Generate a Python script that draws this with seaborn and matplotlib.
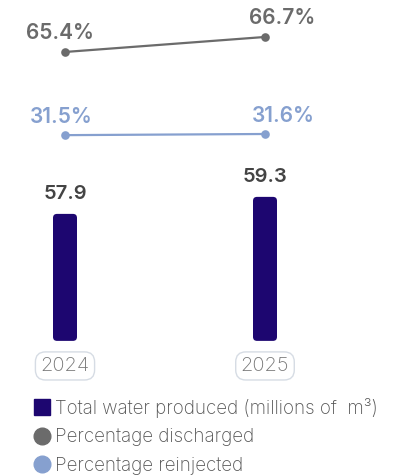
import matplotlib
matplotlib.use('Agg')
import matplotlib.pyplot as plt
from matplotlib.patches import FancyBboxPatch
from matplotlib.lines import Line2D
import seaborn as sns
import pandas as pd

# data
years = ['2024', '2025']
water_produced = [57.9, 59.3]          # millions of m3
pct_discharged = [65.4, 66.7]
pct_reinjected = [31.5, 31.6]

bar_color = '#1d0670'
disch_color = '#6b6b6b'
reinj_color = '#86a0cf'

df = pd.DataFrame({'year': years, 'water': water_produced,
                   'discharged': pct_discharged, 'reinjected': pct_reinjected})

sns.set_theme(style='white')
plt.rcParams['font.family'] = ['Inter', 'DejaVu Sans']

fig = plt.figure(figsize=(4.02, 4.75), dpi=100)
ax = fig.add_axes([0, 125 / 475, 1, 350 / 475])

sns.barplot(data=df, x='year', y='water', color=bar_color, width=0.12,
            saturation=1, ax=ax)

ax2 = ax.twinx()
sns.pointplot(data=df, x='year', y='discharged', color=disch_color,
              markersize=5, linewidth=1.6, ax=ax2)
ax3 = ax.twinx()
sns.pointplot(data=df, x='year', y='reinjected', color=reinj_color,
              markersize=5, linewidth=1.6, ax=ax3)

# each series sits on its own scale, as in the original
ax.set_xlim(-0.325, 1.685)
ax.set_ylim(46.7, 75.5)
ax2.set_ylim(39.6, 69.9)
ax3.set_ylim(12.9, 43.2)

for a in (ax, ax2, ax3):
    a.set_ylabel('')
    a.set_xlabel('')
    a.set_yticks([])
    for s in a.spines.values():
        s.set_visible(False)

# rounded bars starting from the chart's baseline
bar_base = 47.45
fig.canvas.draw()
px_x = ax.bbox.width / (ax.get_xlim()[1] - ax.get_xlim()[0])
px_y = ax.bbox.height / (ax.get_ylim()[1] - ax.get_ylim()[0])
for p in list(ax.patches):
    x0, w, top = p.get_x(), p.get_width(), p.get_y() + p.get_height()
    p.remove()
    ax.add_patch(FancyBboxPatch((x0, bar_base), w, top - bar_base,
                                boxstyle=f'round,pad=0,rounding_size={4 / px_x}',
                                mutation_aspect=px_x / px_y,
                                fc=bar_color, ec='none'))

for i, v in enumerate(water_produced):
    ax.annotate(f'{v:.1f}', (i, v), xytext=(0, 14), textcoords='offset points',
                ha='center', va='center', fontsize=14.5, fontweight='semibold',
                color='#444444')

label_dx = [-4, 12]
for i, v in enumerate(pct_discharged):
    ax2.annotate(f'{v:.1f}%', (i, v), xytext=(label_dx[i], 14),
                 textcoords='offset points', ha='center', va='center',
                 fontsize=15, fontweight='semibold', color=disch_color)
for i, v in enumerate(pct_reinjected):
    ax3.annotate(f'{v:.1f}%', (i, v), xytext=(label_dx[i] + 1, 13),
                 textcoords='offset points', ha='center', va='center',
                 fontsize=15, fontweight='semibold', color=reinj_color)

ax.tick_params(axis='x', length=0, pad=5, labelsize=14.5, labelcolor='#777777')
for t in ax.get_xticklabels():
    t.set_fontweight('light')
    t.set_bbox(dict(boxstyle='round,pad=0.25,rounding_size=0.5', fc='white',
                    ec='#d6dce4', lw=1))

handles = [
    Line2D([], [], marker='s', ls='none', color=bar_color, markersize=12),
    Line2D([], [], marker='o', ls='none', color=disch_color, markersize=12),
    Line2D([], [], marker='o', ls='none', color=reinj_color, markersize=12),
]
labels = ['Total water produced (millions of  m³)', 'Percentage discharged',
          'Percentage reinjected']
leg = fig.legend(handles, labels, loc='upper left',
                 bbox_to_anchor=(33 / 402, 1 - 398 / 475),
                 frameon=False, fontsize=13.5, labelcolor='#555555', borderpad=0,
                 handlelength=1.0, handletextpad=0.2, labelspacing=0.55,
                 borderaxespad=0)
for t in leg.get_texts():
    t.set_fontweight('light')

fig.savefig('out.png', dpi=100)
